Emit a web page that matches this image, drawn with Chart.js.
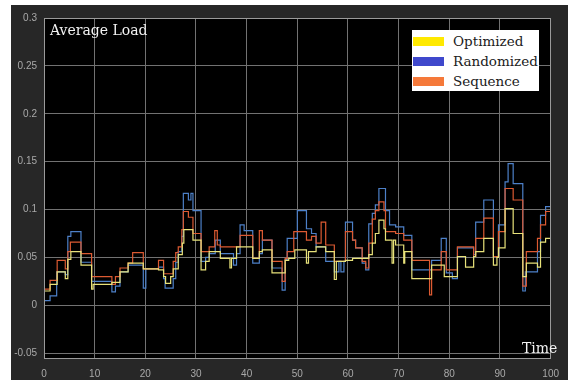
<!DOCTYPE html>
<html>
<head>
<meta charset="utf-8">
<script src="https://cdn.jsdelivr.net/npm/chart.js@4/dist/chart.umd.min.js"></script>
<style>
  html, body { margin: 0; padding: 0; background: #ffffff; }
  #fig { position: absolute; left: 11px; top: 5px; width: 557px; height: 375px; background: #272727; overflow: hidden; }
  #fig canvas { position: absolute; left: 0; top: 0; }
  .serif { font-family: "DejaVu Serif", serif; font-size: 14px; color: #f2f2f2; position: absolute; white-space: nowrap; line-height: 14px; }
  #legend { position: absolute; left: 401px; top: 25px; width: 127px; height: 61px; background: #ffffff; }
  #legend .row { position: absolute; left: 0; height: 20px; width: 127px; }
  #legend .sw { position: absolute; left: 1px; top: 0; width: 31px; height: 9px; }
  #legend .lbl { position: absolute; left: 41px; top: -2px; font-family: "DejaVu Serif", serif; font-size: 13.5px; line-height: 13px; color: #202020; white-space: nowrap; }
</style>
</head>
<body>
<div id="fig">
  <canvas id="chart"></canvas>
  <div class="serif" id="plotTitle" style="left:39px; top:18px;">Average Load</div>
  <div class="serif" id="xName" style="left:511px; top:336px;">Time</div>
  <div id="legend"></div>
</div>
<script>
// Series names and legend swatch colours
const seriesNames = ['Optimized', 'Randomized', 'Sequence'];
const swatchColors = ['#ffe900', '#3f48cc', '#f5793a'];
const lineColors = ['#e8e27a', '#4d80c8', '#dc5a32'];

// Axis ticks
const xTicks = [0, 10, 20, 30, 40, 50, 60, 70, 80, 90, 100];
const yTicks = [-0.05, 0, 0.05, 0.1, 0.15, 0.2, 0.25, 0.3];

// Each value holds from its time until the next time (stair steps)
const optimizedTimes = [0, 1.2, 2.6, 4.2, 4.7, 5.3, 7.3, 9.4, 9.7, 13.4, 15, 16.6, 19.6,
  22.6, 23.6, 24.0, 25.0, 25.5, 26.5, 27.3, 27.6, 29.4, 31.0,
  31.9, 32.6, 34.8, 36.7, 37.0, 38.0, 41.2, 42.5, 43.1, 45, 47.6, 48.3, 49.5, 51.8, 52.2, 53.7, 55.6, 57.3, 57.7, 59.5,
  60.9, 64.1, 64.8, 65.4, 66.1, 67.1, 67.4, 68.7, 69.0, 69.4, 71, 71.2, 72.6, 76.5, 79, 81.6, 83.2, 84.8, 85.2, 86.8,
  88.7, 89.4, 89.7, 91, 92.6, 94.5, 95.2, 97.4, 98, 99, 100];
const optimizedValues = [0.015, 0.022, 0.035, 0.028, 0.048, 0.056, 0.042, 0.017, 0.022, 0.024, 0.035, 0.044, 0.038,
  0.037, 0.030, 0.023, 0.030, 0.038, 0.053, 0.065, 0.079, 0.068, 0.037,
  0.046, 0.056, 0.049, 0.039, 0.049, 0.061, 0.049, 0.056, 0.058, 0.034, 0.047, 0.049, 0.058, 0.044, 0.056, 0.061, 0.056, 0.027, 0.046, 0.047,
  0.049, 0.053, 0.065, 0.075, 0.089, 0.080, 0.068, 0.044, 0.068, 0.063, 0.044, 0.056, 0.028, 0.042, 0.030, 0.051, 0.040, 0.051, 0.056, 0.070,
  0.042, 0.050, 0.060, 0.101, 0.075, 0.030, 0.044, 0.040, 0.066, 0.070, 0.070];

const randomizedTimes = [0, 1.2, 2.5, 4.2, 4.7, 5.3, 7.3, 9.4, 13.4, 14.1, 15, 16.6, 19.6, 20.1,
  22.6, 23.6, 23.9, 25.5, 26.0, 26.5, 27.2, 27.5, 28.5, 29.0, 29.4, 31.0,
  31.9, 32.6, 33.8, 34.8, 37.4, 38.0, 38.7, 39.5, 41.2, 42.5, 43.1, 45, 47.0, 47.6, 48.0, 50, 51.8, 52.8, 53.7, 55.6, 57.3, 58.2, 58.6, 59.2, 59.5,
  60.9, 61.5, 62.8, 63.5, 64.1, 64.8, 65.4, 66.1, 67.4, 68.2, 69.4, 71, 72.6, 76.5, 78.4, 79.4, 80.6, 81.6, 84.8, 85.2, 86.8,
  88.7, 89.7, 91, 91.6, 92.6, 94.5, 95.0, 97.4, 98, 99, 100];
const randomizedValues = [0.005, 0.010, 0.035, 0.032, 0.072, 0.077, 0.045, 0.025, 0.014, 0.020, 0.035, 0.042, 0.018, 0.038,
  0.040, 0.028, 0.018, 0.028, 0.045, 0.056, 0.072, 0.117, 0.110, 0.117, 0.099, 0.046,
  0.050, 0.054, 0.068, 0.054, 0.042, 0.054, 0.084, 0.078, 0.044, 0.054, 0.068, 0.039, 0.016, 0.048, 0.070, 0.099, 0.080, 0.075, 0.061, 0.046, 0.035, 0.046, 0.035, 0.046, 0.087,
  0.068, 0.060, 0.044, 0.037, 0.085, 0.096, 0.105, 0.122, 0.099, 0.084, 0.082, 0.073, 0.037, 0.047, 0.070, 0.034, 0.028, 0.060, 0.053, 0.087, 0.110,
  0.051, 0.084, 0.129, 0.148, 0.127, 0.015, 0.035, 0.056, 0.094, 0.103, 0.103];

const sequenceTimes = [0, 1.2, 2.6, 4.2, 4.7, 5.2, 7.3, 9.4, 13.4, 14.1, 15, 16.6, 17.5, 19.6,
  22.6, 23.6, 25.5, 26.0, 26.5, 27.2, 27.5, 28.5, 29.4, 31.0,
  32.6, 33.7, 34.2, 34.8, 38.7, 41.2, 42.5, 43.1, 45, 47.0, 47.6, 48.0, 49.3, 51.8, 52.8, 53.7, 54.7, 55.6, 57.3, 59.5,
  60.9, 61.5, 62.8, 63.5, 64.1, 64.8, 65.4, 66.1, 67.1, 67.4, 69.4, 71, 72.6, 76.1, 76.5, 78.4, 79.4, 81.6, 84.8, 85.2, 86.8,
  88.7, 89.7, 91, 92.6, 94.5, 95.2, 97.4, 98, 99, 100];
const sequenceValues = [0.017, 0.026, 0.047, 0.038, 0.056, 0.066, 0.054, 0.030, 0.022, 0.030, 0.039, 0.044, 0.055, 0.038,
  0.047, 0.033, 0.046, 0.055, 0.061, 0.079, 0.098, 0.092, 0.075, 0.056,
  0.061, 0.078, 0.063, 0.061, 0.073, 0.049, 0.078, 0.068, 0.046, 0.025, 0.049, 0.056, 0.077, 0.068, 0.072, 0.065, 0.087, 0.063, 0.046, 0.077,
  0.068, 0.060, 0.046, 0.039, 0.065, 0.090, 0.099, 0.108, 0.099, 0.077, 0.075, 0.068, 0.047, 0.011, 0.037, 0.056, 0.037, 0.061, 0.051, 0.070, 0.091,
  0.051, 0.077, 0.122, 0.110, 0.020, 0.056, 0.070, 0.084, 0.098, 0.098];

const seriesTimes = [optimizedTimes, randomizedTimes, sequenceTimes];
const seriesValues = [optimizedValues, randomizedValues, sequenceValues];

// Legend rows
const legendBox = document.getElementById('legend');
seriesNames.forEach((name, i) => {
  const row = document.createElement('div');
  row.className = 'row';
  row.style.top = (7 + i * 20) + 'px';
  const sw = document.createElement('div');
  sw.className = 'sw';
  sw.style.background = swatchColors[i];
  const lbl = document.createElement('div');
  lbl.className = 'lbl';
  lbl.textContent = name;
  row.appendChild(sw);
  row.appendChild(lbl);
  legendBox.appendChild(row);
});

// Black plot area with a grey frame
const plotFrame = {
  id: 'plotFrame',
  beforeDraw(chart) {
    const { ctx, chartArea: a } = chart;
    ctx.save();
    ctx.fillStyle = '#000000';
    ctx.fillRect(a.left, a.top, a.right - a.left, a.bottom - a.top);
    ctx.restore();
  },
  afterDatasetsDraw(chart) {
    const { ctx, chartArea: a } = chart;
    ctx.save();
    ctx.strokeStyle = '#9a9a9a';
    ctx.lineWidth = 1;
    ctx.strokeRect(Math.round(a.left) + 0.5, Math.round(a.top) + 0.5, Math.round(a.right - a.left) - 1, Math.round(a.bottom - a.top) - 1);
    ctx.restore();
  }
};

const datasets = seriesNames.map((name, i) => ({
  label: name,
  data: seriesTimes[i].map((t, k) => ({ x: t, y: seriesValues[i][k] })),
  borderColor: lineColors[i],
  backgroundColor: lineColors[i],
  borderWidth: 1.2,
  pointRadius: 0,
  stepped: 'before',
  fill: false,
  order: [0, 2, 1][i]
}));

new Chart(document.getElementById('chart'), {
  type: 'line',
  data: { datasets },
  options: {
    responsive: true,
    maintainAspectRatio: false,
    animation: false,
    layout: { padding: { top: 10, right: 5, left: 0, bottom: 0 } },
    plugins: { legend: { display: false }, tooltip: { enabled: false } },
    scales: {
      x: {
        type: 'linear',
        min: 0,
        max: 100,
        afterBuildTicks: (s) => { s.ticks = xTicks.map(v => ({ value: v })); },
        afterFit: (s) => { s.height = 21; },
        grid: { color: '#727272', lineWidth: 1, drawTicks: false },
        border: { display: false },
        ticks: { color: '#a9a9a9', padding: 9, maxRotation: 0, autoSkip: false,
                 font: { family: 'Liberation Sans, Arial, sans-serif', size: 10 },
                 callback: (v) => String(v) }
      },
      y: {
        type: 'linear',
        min: -0.056,
        max: 0.3,
        afterBuildTicks: (s) => { s.ticks = yTicks.map(v => ({ value: v })); },
        afterFit: (s) => { s.width = 33; },
        grid: { color: '#727272', lineWidth: 1, drawTicks: false },
        border: { display: false },
        ticks: { color: '#a9a9a9', padding: 7, autoSkip: false,
                 font: { family: 'Liberation Sans, Arial, sans-serif', size: 10 },
                 callback: (v) => String(Math.round(v * 100) / 100) }
      }
    }
  },
  plugins: [plotFrame]
});
</script>
</body>
</html>
